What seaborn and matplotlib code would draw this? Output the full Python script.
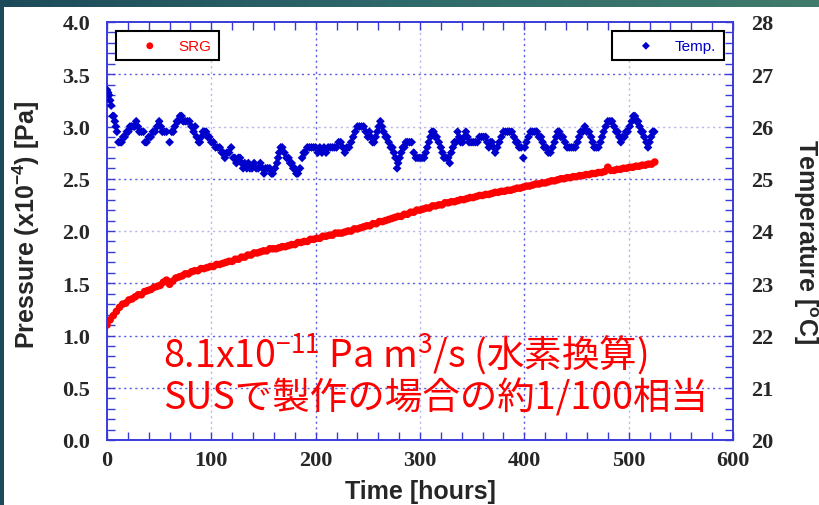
import numpy as np
import matplotlib
matplotlib.use("Agg")
import matplotlib.pyplot as plt
from matplotlib.ticker import MultipleLocator
from matplotlib.colors import LinearSegmentedColormap
import seaborn as sns

# SRG pressure (x1e-4 Pa), one reading every 3 hours from t = 0
srg_pressure = [
    1.10, 1.15, 1.19, 1.23, 1.27, 1.30, 1.31, 1.34, 1.35, 1.37,
    1.39, 1.39, 1.42, 1.43, 1.44, 1.46, 1.47, 1.48, 1.51, 1.53,
    1.49, 1.52, 1.55, 1.56, 1.57, 1.59, 1.59, 1.61, 1.62, 1.62,
    1.64, 1.64, 1.65, 1.66, 1.66, 1.68, 1.68, 1.69, 1.70, 1.71,
    1.71, 1.73, 1.73, 1.75, 1.75, 1.77, 1.77, 1.79, 1.79, 1.80,
    1.81, 1.81, 1.83, 1.83, 1.83, 1.84, 1.85, 1.85, 1.86, 1.87,
    1.87, 1.89, 1.89, 1.90, 1.90, 1.92, 1.92, 1.93, 1.93, 1.95,
    1.95, 1.96, 1.96, 1.98, 1.98, 1.98, 1.99, 2.00, 2.00, 2.02,
    2.02, 2.03, 2.04, 2.05, 2.05, 2.07, 2.07, 2.09, 2.09, 2.10,
    2.11, 2.12, 2.13, 2.14, 2.14, 2.16, 2.16, 2.18, 2.18, 2.20,
    2.20, 2.21, 2.22, 2.22, 2.24, 2.24, 2.25, 2.25, 2.27, 2.27,
    2.28, 2.28, 2.29, 2.30, 2.30, 2.31, 2.32, 2.32, 2.33, 2.34,
    2.34, 2.35, 2.35, 2.36, 2.37, 2.37, 2.38, 2.38, 2.39, 2.39,
    2.40, 2.41, 2.41, 2.42, 2.43, 2.43, 2.44, 2.45, 2.45, 2.46,
    2.46, 2.47, 2.48, 2.48, 2.49, 2.50, 2.50, 2.51, 2.51, 2.52,
    2.52, 2.53, 2.53, 2.54, 2.54, 2.55, 2.55, 2.56, 2.56, 2.57,
    2.61, 2.58, 2.58, 2.59, 2.59, 2.60, 2.60, 2.61, 2.61, 2.62,
    2.62, 2.63, 2.63, 2.64, 2.64, 2.66,
]
srg_hours = np.arange(0, 3 * len(srg_pressure), 3)

# Room temperature log (hours, deg C)
temp_hours = [
    0, 1, 2, 3, 4, 5.5, 6.5, 7.5, 8.5, 9.5, 11, 12.5, 14, 15.5, 17, 19, 20.5,
    22, 23.5, 25, 26.5, 28, 29.5, 31, 33, 35, 36.5, 38, 40, 42, 44, 46, 48, 50,
    51.5, 53, 55, 57, 60, 62, 63.5, 65, 67, 68.5, 70, 71.5, 73, 75, 77, 79, 81,
    83, 84.5, 86, 88, 89, 90.5, 92, 93.5, 95, 96.5, 98, 100, 102, 104, 106, 108,
    110, 111.5, 113, 115, 117, 119, 121, 122.5, 124, 126, 127.5, 129, 130.5,
    132, 134, 135.5, 137, 139, 141, 143, 145, 147, 149, 150.5, 152, 154, 156,
    157.5, 159, 161, 163, 164, 165, 166.5, 168, 170, 172, 174, 175.5, 177,
    178.5, 180, 181.5, 183, 185, 187, 188.5, 190, 192, 194, 196, 198, 200, 202,
    204, 206, 208, 210, 212, 214, 216, 218, 220, 222, 224, 226, 228, 230, 232,
    234, 236, 238, 240, 242, 244, 246, 248, 250, 251.5, 253, 254.5, 256, 257.5,
    259, 260.5, 262, 263.5, 265, 267, 268.5, 270, 272, 273.5, 275, 276.5, 278,
    279, 280.5, 282, 283.5, 285, 286.5, 288, 290, 292, 294, 296, 298, 300, 302,
    304, 305.5, 307, 308.5, 310, 311.5, 313, 314.5, 316, 318, 320, 321.5, 323,
    325, 327, 328.5, 330, 331.5, 333, 334.5, 336, 337.5, 339, 341, 342.5, 344,
    345.5, 347, 349, 351, 353, 355, 357, 359, 361, 363, 364.5, 366, 367.5, 369,
    370.5, 372, 374, 376, 378, 380, 382, 384, 386, 388, 390, 392, 393.5, 395,
    397, 399, 400.5, 402, 404, 406, 408, 410, 412, 414, 416, 417.5, 419, 421,
    423, 425, 427, 429, 430.5, 432, 433.5, 435, 437, 439, 441, 443, 445, 447,
    449, 451, 452.5, 454, 456, 458, 460, 462, 464, 465.5, 467, 469, 471, 473,
    474.5, 476, 478, 480, 482, 484, 486, 488, 489.5, 491, 492.5, 494, 496,
    497.5, 499, 501, 503, 504.5, 506, 507.5, 509, 510.5, 512, 513.5, 515, 517,
    518.5, 520, 521.5, 523, 524.5,
]
temp_c = [
    26.7, 26.65, 26.6, 26.5, 26.4, 26.2, 26.2, 26.1, 26.0, 25.9, 25.7, 25.7,
    25.7, 25.8, 25.8, 25.9, 25.9, 26.0, 26.0, 26.0, 26.0, 26.1, 26.0, 25.9,
    25.9, 25.9, 25.7, 25.7, 25.8, 25.8, 25.9, 25.9, 26.0, 26.1, 26.0, 25.9,
    25.9, 25.9, 25.7, 25.9, 25.9, 26.0, 26.1, 26.1, 26.2, 26.2, 26.1, 26.1,
    26.1, 26.1, 26.0, 25.9, 26.0, 25.8, 25.7, 25.7, 25.8, 25.9, 25.9, 25.9,
    25.8, 25.8, 25.7, 25.7, 25.6, 25.6, 25.6, 25.5, 25.5, 25.4, 25.5, 25.5,
    25.6, 25.4, 25.4, 25.3, 25.4, 25.4, 25.3, 25.2, 25.3, 25.2, 25.3, 25.2,
    25.2, 25.3, 25.2, 25.2, 25.3, 25.2, 25.1, 25.2, 25.2, 25.2, 25.1, 25.1,
    25.2, 25.3, 25.4, 25.5, 25.6, 25.6, 25.5, 25.4, 25.4, 25.3, 25.3, 25.2,
    25.2, 25.1, 25.1, 25.2, 25.4, 25.5, 25.5, 25.6, 25.6, 25.6, 25.6, 25.6,
    25.5, 25.6, 25.5, 25.6, 25.5, 25.6, 25.6, 25.6, 25.6, 25.6, 25.7, 25.7,
    25.6, 25.5, 25.6, 25.6, 25.7, 25.8, 25.9, 26.0, 26.0, 26.0, 26.0, 25.9,
    25.8, 25.9, 25.8, 25.7, 25.7, 25.8, 25.9, 26.0, 26.1, 26.0, 25.9, 25.8,
    25.8, 25.7, 25.6, 25.6, 25.5, 25.4, 25.2, 25.3, 25.4, 25.5, 25.6, 25.6,
    25.7, 25.7, 25.7, 25.7, 25.5, 25.4, 25.4, 25.4, 25.4, 25.4, 25.5, 25.6,
    25.7, 25.8, 25.9, 25.9, 25.8, 25.8, 25.7, 25.6, 25.5, 25.4, 25.4, 25.4,
    25.3, 25.5, 25.6, 25.7, 25.7, 25.9, 25.8, 25.7, 25.7, 25.8, 25.9, 25.8,
    25.7, 25.7, 25.7, 25.7, 25.7, 25.8, 25.8, 25.8, 25.8, 25.7, 25.6, 25.7,
    25.7, 25.6, 25.5, 25.6, 25.7, 25.8, 25.9, 25.9, 25.9, 25.9, 25.9, 25.8,
    25.7, 25.7, 25.6, 25.6, 25.4, 25.6, 25.7, 25.8, 25.9, 25.9, 25.9, 25.9,
    25.8, 25.8, 25.7, 25.6, 25.6, 25.5, 25.5, 25.6, 25.7, 25.8, 25.9, 25.9,
    25.8, 25.8, 25.7, 25.6, 25.6, 25.6, 25.6, 25.6, 25.7, 25.8, 25.9, 25.9,
    26.0, 25.9, 25.9, 25.8, 25.7, 25.6, 25.6, 25.6, 25.7, 25.8, 25.9, 26.0,
    26.1, 26.1, 26.1, 26.0, 25.9, 25.9, 25.8, 25.7, 25.8, 25.8, 25.9, 25.9,
    26.0, 26.1, 26.2, 26.2, 26.1, 26.1, 26.0, 25.9, 25.9, 25.8, 25.7, 25.6,
    25.7, 25.8, 25.9, 25.9,
]

time_ticks = [0, 100, 200, 300, 400, 500, 600]
pressure_ticks = [0.0, 0.5, 1.0, 1.5, 2.0, 2.5, 3.0, 3.5, 4.0]
temp_ticks = [20, 21, 22, 23, 24, 25, 26, 27, 28]

note_line1 = "8.1x10$^{-11}$ Pa m$^{3}$/s (水素換算)"
note_line2 = "SUSで製作の場合の約1/100相当"

sns.set_style("ticks")
plt.rcParams.update({
    "mathtext.fontset": "custom",
    "mathtext.rm": "Noto Sans CJK JP",
    "mathtext.it": "Noto Sans CJK JP",
    "mathtext.bf": "Liberation Sans:bold",
    "font.family": ["Liberation Sans", "DejaVu Sans"],
})

W, H = 819, 506
fig = plt.figure(figsize=(W / 100, H / 100), dpi=100)
fig.patch.set_facecolor("white")

# slide frame: gradient band on top, dark strip on the left
band = fig.add_axes([0, 1 - 8 / H, 1, 8 / H])
band_cmap = LinearSegmentedColormap.from_list("band", ["#1d4a5a", "#2f6a6a", "#3f7c6c"])
band.imshow(np.linspace(0, 1, 256)[None, :], aspect="auto", cmap=band_cmap,
            extent=[0, 1, 0, 1])
band.axis("off")
strip = fig.add_axes([0, 0, 4 / W, 1 - 8 / H])
strip.set_facecolor("#1d4a5a")
strip.set_xticks([])
strip.set_yticks([])
for s in strip.spines.values():
    s.set_visible(False)

axis_blue = "#3a3ad8"
ax = fig.add_axes([107 / W, 1 - 441 / H, 626 / W, 418 / H])
ax.set_facecolor("white")
ax2 = ax.twinx()

# dotted grid
light, medium = "#b4b4ee", "#5a5ae0"
for t in time_ticks[1:-1]:
    ax.axvline(t, color=medium if t % 200 == 0 else light,
               ls=(0, (1.5, 2.5)), lw=1, zorder=0)
for p in pressure_ticks[1:-1]:
    ax.axhline(p, color=light if p in (2.0, 3.0) else medium,
               ls=(0, (1.5, 2.5)), lw=1, zorder=0)

sns.scatterplot(x=srg_hours, y=srg_pressure, ax=ax, color="#ff0000",
                marker="o", s=30, edgecolor="none", linewidth=0, label="SRG",
                zorder=3)
sns.scatterplot(x=temp_hours, y=temp_c, ax=ax2, color="#0000cc",
                marker="D", s=20, edgecolor="none", linewidth=0, label="Temp.",
                zorder=3)

ax.set_xlim(0, 600)
ax.set_ylim(0, 4)
ax2.set_ylim(20, 28)

tick_font = dict(fontfamily="Liberation Serif", fontweight="bold", fontsize=16)
ax.set_xticks(time_ticks, labels=[str(t) for t in time_ticks], **tick_font)
ax.set_yticks(pressure_ticks, labels=[f"{p:.1f}" for p in pressure_ticks], **tick_font)
ax2.set_yticks(temp_ticks, labels=[str(t) for t in temp_ticks], **tick_font)
ax.xaxis.set_minor_locator(MultipleLocator(20))
ax.yaxis.set_minor_locator(MultipleLocator(0.1))
ax2.yaxis.set_minor_locator(MultipleLocator(0.2))

ax.tick_params(axis="x", which="both", direction="in", length=6, width=1,
               color=axis_blue, top=True, pad=7)
ax.tick_params(axis="y", which="both", direction="in", length=6, width=1,
               color=axis_blue, right=False, pad=12)
ax2.tick_params(axis="y", which="both", direction="in", length=6, width=1,
                color=axis_blue, pad=13)
for a in (ax, ax2):
    for s in a.spines.values():
        s.set_color(axis_blue)
        s.set_linewidth(1.2)

label_font = dict(fontfamily="Liberation Sans", fontweight="bold", fontsize=18)
ax.set_xlabel("")
ax.set_ylabel("")
ax2.set_ylabel("")
ax.text(0.5, -0.093, "Time [hours]", transform=ax.transAxes, ha="center",
        va="top", **label_font)
ax.text((26 - 107) / 626, (441 - 225) / 418,
        "Pressure (x10$^{\\mathbf{-4}}$) [Pa]", transform=ax.transAxes,
        rotation=90, ha="center", va="center", **label_font)
ax.text((805 - 107) / 626, (441 - 242) / 418,
        "Temperature [$^{\\mathbf{o}}$C]", transform=ax.transAxes,
        rotation=270, ha="center", va="center", **label_font)

leg_kw = dict(frameon=True, fancybox=False, framealpha=1,
              edgecolor="black", handlelength=3.4, handletextpad=0.2,
              borderpad=0.5, borderaxespad=0.6, markerscale=0.9,
              prop={"family": ["Liberation Sans Narrow", "Liberation Sans"],
                    "size": 11})
leg1 = ax.legend(loc="upper left", **leg_kw)
leg2 = ax2.legend(loc="upper right", **leg_kw)
for leg, col in ((leg1, "#ff0000"), (leg2, "#0000cc")):
    leg.get_frame().set_linewidth(1.5)
    for txt in leg.get_texts():
        txt.set_color(col)

note_font = dict(fontfamily=["Noto Sans CJK JP", "DejaVu Sans"], fontsize=27,
                 color="#ff0000")
ax.text((163 - 107) / 626, (441 - 367) / 418, note_line1,
        transform=ax.transAxes, ha="left", va="baseline", zorder=5, **note_font)
ax.text((163 - 107) / 626, (441 - 410) / 418, note_line2,
        transform=ax.transAxes, ha="left", va="baseline", zorder=5, **note_font)

fig.savefig("out.png", dpi=100, facecolor=fig.get_facecolor())
